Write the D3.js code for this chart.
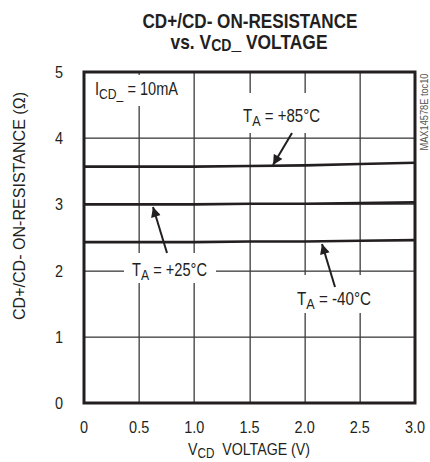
<!DOCTYPE html>
<html>
<head>
<meta charset="utf-8">
<script src="https://cdn.jsdelivr.net/npm/d3@7"></script>
<style>
  body { margin: 0; background: #fff; }
  text { font-family: "Liberation Sans", Arial, sans-serif; fill: #231f20; }
</style>
</head>
<body>
<div id="chart"></div>
<script>
var svgWidth = 430;
var svgHeight = 462;

// data
var voltage = [0, 0.5, 1.0, 1.5, 2.0, 2.5, 3.0];
var r85 = [3.57, 3.57, 3.57, 3.58, 3.59, 3.61, 3.63];
var r25 = [3.00, 3.00, 3.00, 3.01, 3.01, 3.02, 3.03];
var rm40 = [2.43, 2.43, 2.43, 2.44, 2.44, 2.45, 2.46];
var xTicks = [0, 0.5, 1.0, 1.5, 2.0, 2.5, 3.0];
var xTickLabels = ["0", "0.5", "1.0", "1.5", "2.0", "2.5", "3.0"];
var yTicks = [0, 1, 2, 3, 4, 5];

var margin = { top: 72, right: 15, bottom: 59, left: 84 };
var plotW = svgWidth - margin.left - margin.right;
var plotH = svgHeight - margin.top - margin.bottom;

var svg = d3.select("#chart")
  .append("svg")
  .attr("width", svgWidth)
  .attr("height", svgHeight);

var x = d3.scaleLinear().domain([0, 3]).range([margin.left, margin.left + plotW]);
var y = d3.scaleLinear().domain([0, 5]).range([margin.top + plotH, margin.top]);

var ink = "#231f20";
var gridColor = "#3c3c3c";

// squeeze text to look like a condensed face
function condense(sel, k) {
  sel.each(function() {
    var w = this.getComputedTextLength();
    d3.select(this).attr("textLength", w * k).attr("lengthAdjust", "spacingAndGlyphs");
  });
}

// grid as thin filled rects
svg.selectAll("rect.vg")
  .data(xTicks.slice(1, -1))
  .enter()
  .append("rect")
  .attr("class", "vg")
  .attr("x", d => Math.round(x(d)) - 0.5)
  .attr("y", y(5))
  .attr("width", 1.3)
  .attr("height", y(0) - y(5))
  .attr("fill", gridColor);
svg.selectAll("rect.hg")
  .data(yTicks.slice(1, -1))
  .enter()
  .append("rect")
  .attr("class", "hg")
  .attr("x", x(0))
  .attr("y", d => Math.round(y(d)) - 0.5)
  .attr("width", x(3) - x(0))
  .attr("height", 1.3)
  .attr("fill", gridColor);

// white boxes behind labels (they break the grid)
function whiteBox(x0, y0, w, h) {
  svg.append("rect").attr("x", x0).attr("y", y0).attr("width", w).attr("height", h).attr("fill", "#fff");
}
whiteBox(90, 75, 92, 31);
whiteBox(238, 93, 90, 40);
whiteBox(124, 253, 92, 30);
whiteBox(290, 275, 90, 38);

// curves
var line = d3.line().x(d => x(d[0])).y(d => y(d[1]));
[r85, r25, rm40].forEach(function(series) {
  svg.append("path")
    .datum(voltage.map((v, i) => [v, series[i]]))
    .attr("d", line)
    .attr("fill", "none")
    .attr("stroke", ink)
    .attr("stroke-width", 2.6);
});

// frame
svg.append("rect")
  .attr("x", x(0)).attr("y", y(5))
  .attr("width", x(3) - x(0)).attr("height", y(0) - y(5))
  .attr("fill", "none").attr("stroke", ink).attr("stroke-width", 3);

// tick labels
svg.selectAll("text.xt")
  .data(xTicks)
  .enter()
  .append("text")
  .attr("class", "xt")
  .attr("x", d => x(d))
  .attr("y", 433)
  .attr("text-anchor", "middle")
  .attr("font-size", 17)
  .text((d, i) => xTickLabels[i])
  .call(condense, 0.85);

svg.selectAll("text.yt")
  .data(yTicks)
  .enter()
  .append("text")
  .attr("class", "yt")
  .attr("x", 63)
  .attr("y", d => y(d) + 6)
  .attr("text-anchor", "end")
  .attr("font-size", 17)
  .text(d => d)
  .call(condense, 0.85);

// title
svg.append("text")
  .attr("x", 250).attr("y", 28)
  .attr("text-anchor", "middle")
  .attr("font-size", 21).attr("font-weight", "bold")
  .attr("textLength", 215).attr("lengthAdjust", "spacingAndGlyphs")
  .text("CD+/CD- ON-RESISTANCE");
var t2 = svg.append("text")
  .attr("x", 249).attr("y", 49)
  .attr("text-anchor", "middle")
  .attr("font-size", 21).attr("font-weight", "bold")
  .attr("textLength", 157).attr("lengthAdjust", "spacingAndGlyphs");
t2.append("tspan").text("vs. V");
t2.append("tspan").attr("font-size", 17).attr("dy", 2).text("CD");
t2.append("tspan").attr("dy", -2).text("_ VOLTAGE");

// axis titles
var xl = svg.append("text")
  .attr("x", 249).attr("y", 455)
  .attr("text-anchor", "middle")
  .attr("font-size", 17)
  .attr("textLength", 122).attr("lengthAdjust", "spacingAndGlyphs");
xl.append("tspan").text("V");
xl.append("tspan").attr("font-size", 14).attr("dy", 3).text("CD");
xl.append("tspan").attr("dy", -3).text("\u00a0\u00a0VOLTAGE (V)");

svg.append("text")
  .attr("transform", "translate(25,206) rotate(-90)")
  .attr("text-anchor", "middle")
  .attr("font-size", 16)
  .attr("textLength", 228).attr("lengthAdjust", "spacingAndGlyphs")
  .text("CD+/CD- ON-RESISTANCE (\u03a9)");

// watermark
svg.append("text")
  .attr("transform", "translate(428,112) rotate(-90)")
  .attr("text-anchor", "middle")
  .attr("font-size", 11)
  .attr("textLength", 77).attr("lengthAdjust", "spacingAndGlyphs")
  .style("fill", "#555")
  .text("MAX14578E toc10");

// annotations
function subLabel(x0, y0, w, main, sub, rest) {
  var t = svg.append("text").attr("x", x0).attr("y", y0).attr("font-size", 18)
    .attr("textLength", w).attr("lengthAdjust", "spacingAndGlyphs");
  t.append("tspan").text(main);
  t.append("tspan").attr("font-size", 15).attr("dy", 4).text(sub);
  t.append("tspan").attr("dy", -4).text(rest);
}
subLabel(95, 95, 83, "I", "CD_", " = 10mA");
subLabel(243, 122, 77, "T", "A", " = +85\u00b0C");
subLabel(132, 276, 75, "T", "A", " = +25\u00b0C");
subLabel(297, 305, 74, "T", "A", " = -40\u00b0C");

// arrows
svg.append("defs").append("marker")
  .attr("id", "head")
  .attr("viewBox", "0 0 10 10")
  .attr("refX", 10).attr("refY", 5)
  .attr("markerWidth", 5.5).attr("markerHeight", 5)
  .attr("markerUnits", "strokeWidth")
  .attr("orient", "auto")
  .append("path")
  .attr("d", "M0,0 L10,5 L0,10 Z")
  .attr("fill", ink);

var arrows = [
  [292, 133, 273, 165],
  [167, 253, 153, 207],
  [335, 287, 322, 244]
];
svg.selectAll("line.arr")
  .data(arrows)
  .enter()
  .append("line")
  .attr("class", "arr")
  .attr("x1", d => d[0]).attr("y1", d => d[1])
  .attr("x2", d => d[2]).attr("y2", d => d[3])
  .attr("stroke", ink).attr("stroke-width", 2)
  .attr("marker-end", "url(#head)");
</script>
</body>
</html>
